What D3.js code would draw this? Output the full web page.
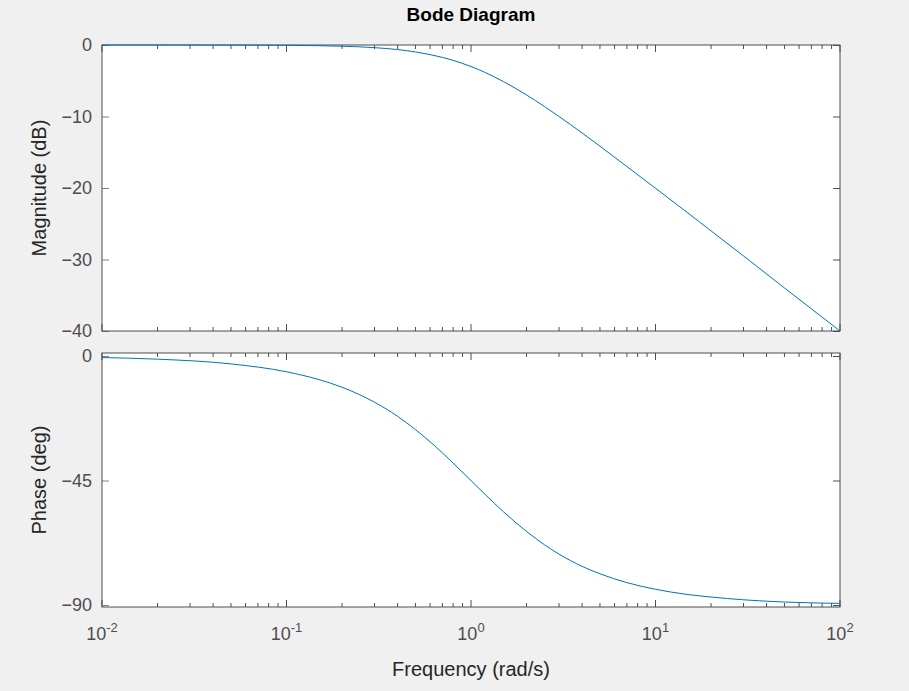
<!DOCTYPE html>
<html lang="en">
<head>
<meta charset="UTF-8">
<title>Bode Diagram</title>
<style>
  body { margin: 0; background: #f0f0f0; font-family: Arial, "Liberation Sans", sans-serif; }
  .axis text { font-size: 18px; fill: #4d4d4d; }
  .axis path, .axis line { stroke: #808080; }
</style>
</head>
<body>
<svg id="chart" width="909" height="691"></svg>
<script src="https://d3js.org/d3.v7.min.js"></script>
<script>
// Frequency samples (rad/s) and values
const freq = [0.01, 0.02, 0.05, 0.1, 0.15, 0.2, 0.3, 0.4, 0.5, 0.6, 0.7, 0.8, 1, 1.2, 1.5, 2, 2.5, 3, 4, 5, 7, 10, 15, 20, 30, 50, 70, 100];
const magDb = [0, -0.002, -0.011, -0.043, -0.1, -0.17, -0.37, -0.64, -0.97, -1.34, -1.73, -2.15, -3.01, -3.87, -5.12, -6.99, -8.60, -10.0, -12.3, -14.15, -17.0, -20.04, -23.5, -26.0, -29.5, -33.98, -36.9, -40.0];
const phaseDeg = [-0.57, -1.15, -2.86, -5.71, -8.53, -11.3, -16.7, -21.8, -26.6, -31.0, -35.0, -38.7, -45, -50.2, -56.3, -63.4, -68.2, -71.6, -76.0, -78.7, -81.9, -84.3, -86.2, -87.1, -88.1, -88.9, -89.2, -89.4];
const magTicks = [0, -10, -20, -30, -40];
const phaseTicks = [0, -45, -90];
const decades = [0.01, 0.1, 1, 10, 100];

const svg = d3.select("#chart");
const left = 102, right = 840;
const magTop = 45, magBottom = 331;
const phTop = 353, phBottom = 607;

const x = d3.scaleLog().domain([0.01, 100]).range([left, right]);
const yMag = d3.scaleLinear().domain([-40, 0]).range([magBottom, magTop]);
const yPh = d3.scaleLinear().domain([-90.7, 1.08]).range([phBottom, phTop]);

const minorTicks = [];
decades.slice(0, -1).forEach(d => { for (let k = 1; k < 10; k++) minorTicks.push(d * k); });
minorTicks.push(100);

function panel(y, top, bottom, ticks, values) {
  svg.append("rect").attr("x", left).attr("y", top)
    .attr("width", right - left).attr("height", bottom - top).attr("fill", "#fff");

  // x ticks, bottom and top
  [bottom, top].forEach((yy, i) => {
    const g = svg.append("g");
    minorTicks.forEach(f => {
      const major = decades.includes(f);
      const len = major ? 7 : 4;
      g.append("line").attr("x1", x(f)).attr("x2", x(f))
        .attr("y1", yy).attr("y2", i === 0 ? yy - len : yy + len)
        .attr("stroke", "#4d4d4d").attr("stroke-width", 1);
    });
  });

  const ya = svg.append("g").attr("class", "axis").attr("transform", `translate(${left},0)`)
    .call(d3.axisLeft(y).tickValues(ticks).tickSize(-7).tickPadding(10));
  ya.select(".domain").remove();
  ya.selectAll("line").attr("stroke", "#4d4d4d");
  ya.selectAll("text").style("font-size", "18px");
  const yr = svg.append("g").attr("transform", `translate(${right},0)`)
    .call(d3.axisRight(y).tickValues(ticks).tickSize(-7).tickFormat(""));
  yr.select(".domain").remove();
  yr.selectAll("line").attr("stroke", "#4d4d4d");

  svg.append("rect").attr("x", left).attr("y", top)
    .attr("width", right - left).attr("height", bottom - top)
    .attr("fill", "none").attr("stroke", "#4d4d4d").attr("stroke-width", 1);

  const line = d3.line().x((d, i) => x(freq[i])).y(d => y(d)).curve(d3.curveMonotoneX);
  svg.append("path").datum(values).attr("d", line)
    .attr("fill", "none").attr("stroke", "#0072bd").attr("stroke-width", 1);
}

panel(yMag, magTop, magBottom, magTicks, magDb);
panel(yPh, phTop, phBottom, phaseTicks, phaseDeg);

// x tick labels 10^n
decades.forEach(d => {
  const t = svg.append("text").attr("x", x(d)).attr("y", 640)
    .attr("text-anchor", "middle").attr("fill", "#4d4d4d").style("font-size", "18px");
  t.append("tspan").text("10");
  t.append("tspan").attr("dy", -8).style("font-size", "13px").text(Math.round(Math.log10(d)));
});

svg.append("text").attr("x", (left + right) / 2).attr("y", 21).attr("text-anchor", "middle")
  .style("font-size", "19px").style("font-weight", "bold").attr("fill", "#000").text("Bode Diagram");
svg.append("text").attr("x", (left + right) / 2).attr("y", 676).attr("text-anchor", "middle")
  .style("font-size", "20px").attr("fill", "#262626").text("Frequency  (rad/s)");
svg.append("text").attr("transform", `translate(46,${(magTop + magBottom) / 2}) rotate(-90)`)
  .attr("text-anchor", "middle").style("font-size", "20px").attr("fill", "#262626").text("Magnitude (dB)");
svg.append("text").attr("transform", `translate(46,${(phTop + phBottom) / 2}) rotate(-90)`)
  .attr("text-anchor", "middle").style("font-size", "20px").attr("fill", "#262626").text("Phase (deg)");
</script>
</body>
</html>
